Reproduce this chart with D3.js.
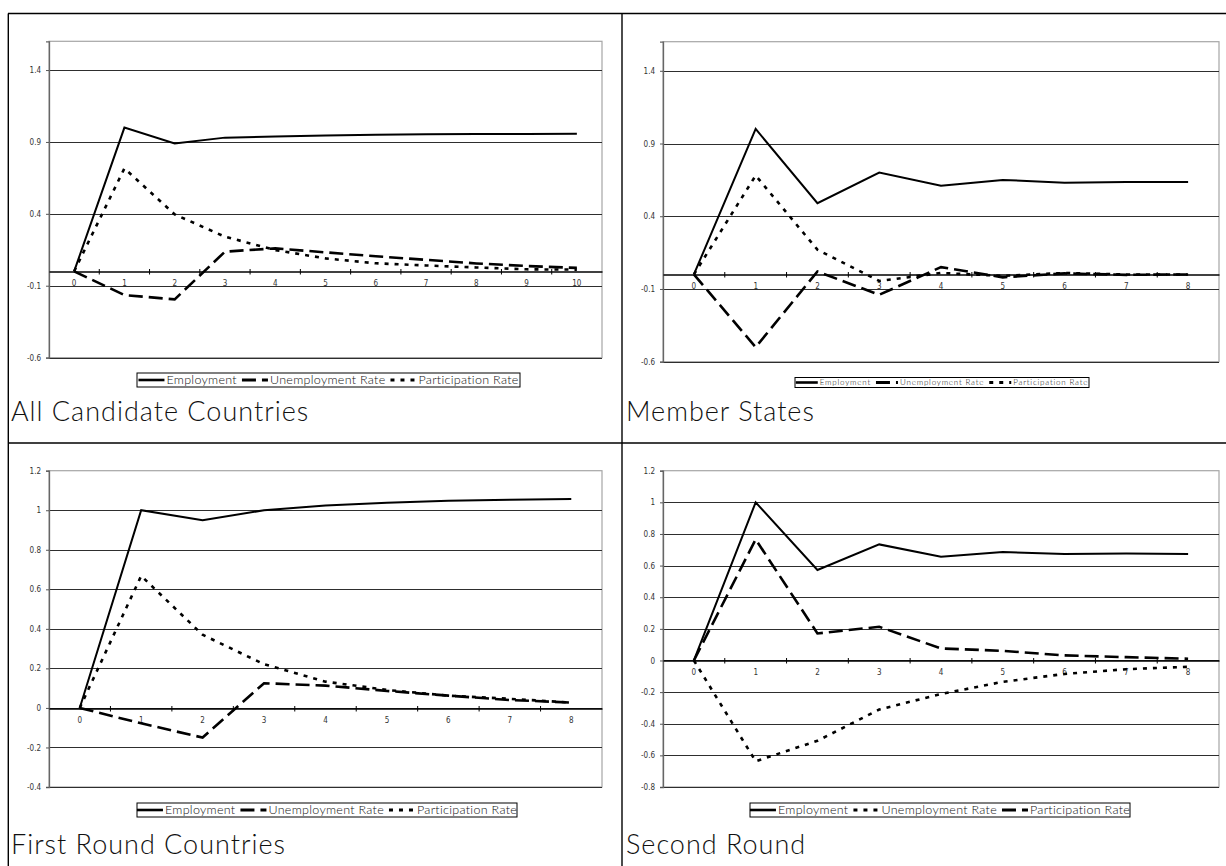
<!DOCTYPE html>
<html><head><meta charset="utf-8">
<script src="https://cdn.jsdelivr.net/npm/d3@7"></script>
<style>body{margin:0;background:#fff}svg{display:block}</style>
</head><body>
<svg id="c" width="1226" height="866"></svg>
<script>
// ---------- data ----------
const periods10 = ["0","1","2","3","4","5","6","7","8","9","10"];
const periods8 = ["0","1","2","3","4","5","6","7","8"];
const ticksTop = [-0.6, -0.1, 0.4, 0.9, 1.4];
const ticksFirst = [-0.4, -0.2, 0, 0.2, 0.4, 0.6, 0.8, 1, 1.2];
const ticksSecond = [-0.8, -0.6, -0.4, -0.2, 0, 0.2, 0.4, 0.6, 0.8, 1, 1.2];
const titles = ["All Candidate Countries", "Member States", "First Round Countries", "Second Round"];
const legendLabels = ["Employment", "Unemployment Rate", "Participation Rate"];

const accEmployment    = [0, 1.0, 0.89, 0.93, 0.937, 0.945, 0.95, 0.953, 0.955, 0.956, 0.957];
const accUnemployment  = [0, -0.165, -0.195, 0.137, 0.16, 0.132, 0.105, 0.08, 0.055, 0.037, 0.024];
const accParticipation = [0, 0.716, 0.396, 0.241, 0.148, 0.09, 0.056, 0.041, 0.027, 0.014, 0.012];

const msEmployment    = [0, 1.0, 0.49, 0.70, 0.61, 0.65, 0.63, 0.635, 0.635];
const msUnemployment  = [0, -0.5, 0.02, -0.14, 0.05, -0.02, 0.007, -0.003, 0];
const msParticipation = [0, 0.68, 0.17, -0.045, 0.01, -0.01, 0.01, 0, 0];

const frEmployment    = [0, 1.0, 0.949, 1.0, 1.024, 1.038, 1.048, 1.053, 1.057];
const frUnemployment  = [0, -0.078, -0.15, 0.125, 0.113, 0.086, 0.062, 0.04, 0.027];
const frParticipation = [0, 0.668, 0.37, 0.221, 0.133, 0.091, 0.062, 0.046, 0.027];

const srEmployment    = [0, 1.0, 0.572, 0.734, 0.656, 0.686, 0.673, 0.677, 0.673];
const srUnemployment  = [0, -0.637, -0.508, -0.31, -0.212, -0.135, -0.085, -0.055, -0.04];
const srParticipation = [0, 0.766, 0.171, 0.213, 0.076, 0.061, 0.032, 0.021, 0.011];

// ---------- styles ----------
const STY = {
  solid: {w: 2, dash: null},
  dash:  {w: 2.6, dash: "14,6"},
  dot:   {w: 2.6, dash: "4,6"}
};
const FONT = "'Liberation Sans Narrow','DejaVu Sans Condensed','Liberation Sans',sans-serif";
const TFONT = "Lato,'Open Sans',sans-serif";

const panels = [
  {title: titles[0], cats: periods10, ticks: ticksTop, domain: [-0.6, 1.6],
   series: [accEmployment, accUnemployment, accParticipation], styles: ["solid","dash","dot"],
   plot: {x: 49, y: 41.3, w: 553, h: 316.3},
   legend: {x: 137, y: 373, w: 383, h: 14, fs: 12.5, ls: 0.3, sample: 26},
   tx: 11, ty: 421},
  {title: titles[1], cats: periods8, ticks: ticksTop, domain: [-0.6, 1.6],
   series: [msEmployment, msUnemployment, msParticipation], styles: ["solid","dash","dot"],
   plot: {x: 663, y: 41.7, w: 556, h: 320},
   legend: {x: 795, y: 377.5, w: 294, h: 10, fs: 8, ls: 0.8, sample: 22},
   tx: 626, ty: 421},
  {title: titles[2], cats: periods8, ticks: ticksFirst, domain: [-0.4, 1.2],
   series: [frEmployment, frUnemployment, frParticipation], styles: ["solid","dash","dot"],
   plot: {x: 49, y: 470.7, w: 553, h: 316.3},
   legend: {x: 137, y: 803, w: 380, h: 14, fs: 12.5, ls: 0.3, sample: 26},
   tx: 11, ty: 854},
  {title: titles[3], cats: periods8, ticks: ticksSecond, domain: [-0.8, 1.2],
   series: [srEmployment, srUnemployment, srParticipation], styles: ["solid","dot","dash"],
   plot: {x: 663, y: 470.7, w: 556, h: 316.3},
   legend: {x: 750, y: 803, w: 380, h: 14, fs: 12.5, ls: 0.3, sample: 26},
   tx: 626, ty: 854}
];

const svg = d3.select("#c");
const fmt = d => String(Math.round(d * 10) / 10);

// outer frame
const frame = svg.append("g").attr("stroke", "#000").attr("stroke-width", 1.4).attr("fill", "none");
frame.append("line").attr("x1", 8).attr("x2", 1226).attr("y1", 13.5).attr("y2", 13.5);
frame.append("line").attr("x1", 8).attr("x2", 1226).attr("y1", 443).attr("y2", 443);
frame.append("line").attr("x1", 8.3).attr("x2", 8.3).attr("y1", 13.5).attr("y2", 866);
frame.append("line").attr("x1", 622).attr("x2", 622).attr("y1", 13.5).attr("y2", 866);

panels.forEach(p => {
  const g = svg.append("g");
  const P = p.plot;
  const y = d3.scaleLinear().domain(p.domain).range([P.y + P.h, P.y]);
  const x = d3.scaleBand().domain(p.cats).range([P.x, P.x + P.w]).padding(0);
  const cx = c => x(c) + x.bandwidth() / 2;

  // plot area border
  g.append("rect").attr("x", P.x).attr("y", P.y).attr("width", P.w).attr("height", P.h)
    .attr("fill", "none").attr("stroke", "#a6a6a6").attr("stroke-width", 1.2);

  // gridlines
  g.append("g").selectAll("line").data(p.ticks.filter(t => Math.abs(t - p.domain[1]) > 1e-9)).join("line")
    .attr("x1", P.x).attr("x2", P.x + P.w)
    .attr("y1", d => Math.round(y(d)) + 0.5).attr("y2", d => Math.round(y(d)) + 0.5)
    .attr("stroke", "#2e2e2e").attr("stroke-width", 1.2);

  // y axis
  const ya = g.append("g").attr("transform", `translate(${P.x},0)`)
    .call(d3.axisLeft(y).tickValues(p.ticks).tickFormat(fmt).tickSize(3).tickPadding(5));
  ya.select(".domain").attr("stroke", "#666").attr("stroke-width", 1.3);
  ya.selectAll(".tick line").attr("stroke", "#555");
  ya.selectAll("text").attr("font-family", FONT).attr("font-size", 8).attr("fill", "#333");

  // x axis at zero
  const y0 = Math.round(y(0)) + 0.5;
  const xa = g.append("g").attr("transform", `translate(0,${y0})`)
    .call(d3.axisBottom(x).tickSize(0).tickPadding(9));
  xa.select(".domain").attr("stroke", "#000").attr("stroke-width", 1.3);
  xa.selectAll("text").attr("font-family", FONT).attr("font-size", 8).attr("fill", "#333");
  // category boundary ticks
  const bounds = p.cats.slice(1).map(c => x(c));
  g.append("g").selectAll("line").data(bounds).join("line")
    .attr("x1", d => d).attr("x2", d => d).attr("y1", y0 - 2.5).attr("y2", y0 + 3)
    .attr("stroke", "#000").attr("stroke-width", 1);

  // series
  const line = d3.line().x((d, i) => cx(p.cats[i])).y(d => y(d));
  p.series.forEach((s, i) => {
    const st = STY[p.styles[i]];
    g.append("path").datum(s).attr("d", line)
      .attr("fill", "none").attr("stroke", "#000").attr("stroke-width", st.w)
      .attr("stroke-dasharray", st.dash).attr("stroke-linejoin", "miter");
  });

  // legend
  const L = p.legend;
  const lg = g.append("g");
  lg.append("rect").attr("x", L.x).attr("y", L.y).attr("width", L.w).attr("height", L.h)
    .attr("fill", "#fff").attr("stroke", "#000").attr("stroke-width", 1);
  const items = lg.append("g");
  let cur = 0;
  const cy = L.y + L.h / 2;
  legendLabels.forEach((lab, i) => {
    const st = STY[p.styles[i]];
    items.append("line").attr("x1", cur).attr("x2", cur + L.sample).attr("y1", cy).attr("y2", cy)
      .attr("stroke", "#000").attr("stroke-width", st.w + 0.6).attr("stroke-dasharray", st.dash ? (p.styles[i] === "dot" ? "4,6" : "14,6") : null);
    const t = items.append("text").attr("x", cur + L.sample + 2).attr("y", cy).attr("dy", "0.35em")
      .attr("font-family", TFONT).attr("font-weight", 300).attr("font-size", L.fs)
      .attr("letter-spacing", L.ls).attr("fill", "#111").text(lab);
    cur += L.sample + 2 + t.node().getComputedTextLength() + 5;
  });
  const total = cur - 5;
  items.attr("transform", `translate(${L.x + (L.w - total) / 2},0)`);

  // panel title
  g.append("text").attr("x", p.tx).attr("y", p.ty).attr("font-family", TFONT).attr("font-weight", 300)
    .attr("font-size", 27).attr("letter-spacing", 1).attr("fill", "#111").text(p.title);
});
</script>
</body></html>
